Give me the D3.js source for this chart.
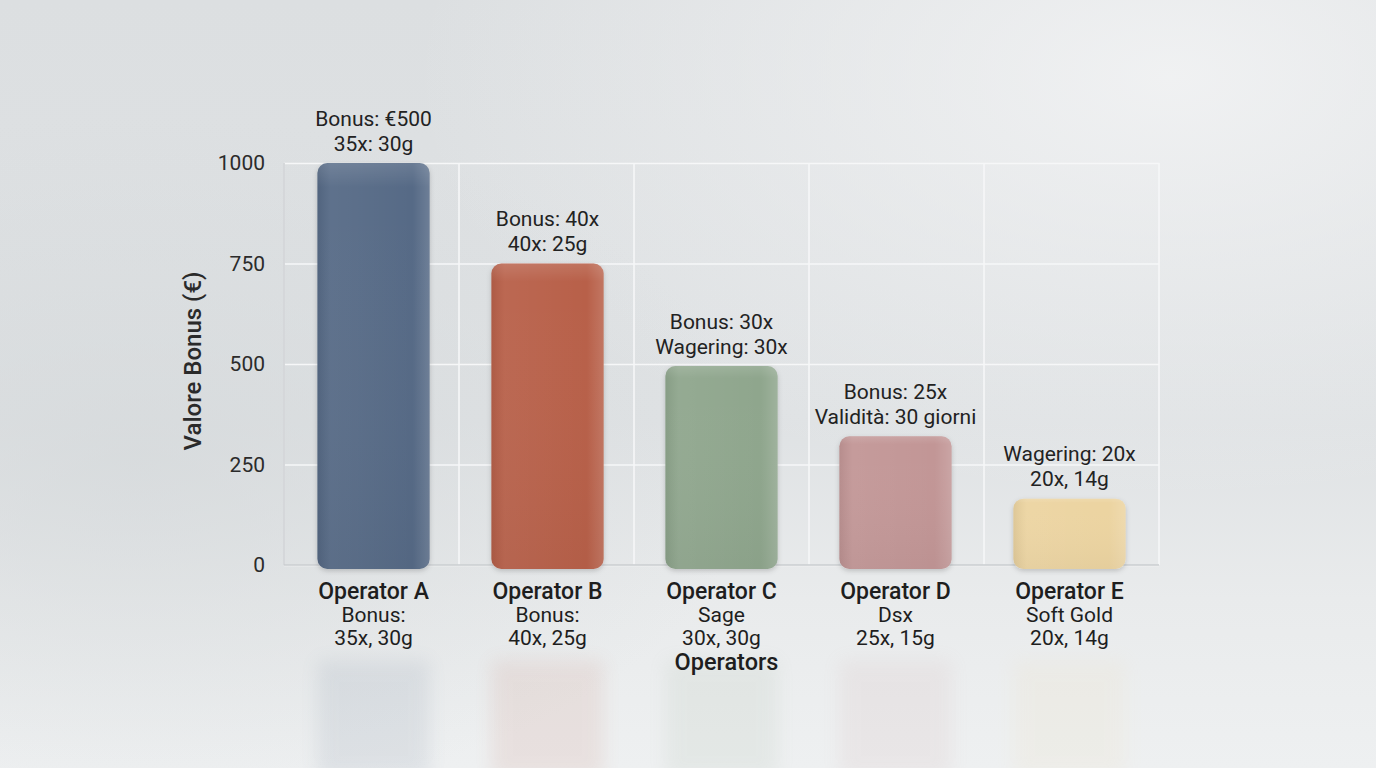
<!DOCTYPE html>
<html><head><meta charset="utf-8">
<script src="https://cdn.jsdelivr.net/npm/d3@7"></script>
<style>html,body{margin:0;padding:0;overflow:hidden;background:#e3e6e8;}svg{display:block;}</style>
</head><body>
<svg id="c" width="1376" height="768"></svg>
<script>
const categories = ["Operator A","Operator B","Operator C","Operator D","Operator E"];
const values = [1000, 750, 495, 320, 165];
const topLine1 = ["Bonus: €500","Bonus: 40x","Bonus: 30x","Bonus: 25x","Wagering: 20x"];
const topLine2 = ["35x: 30g","40x: 25g","Wagering: 30x","Validità: 30 giorni","20x, 14g"];
const subLine1 = ["Bonus:","Bonus:","Sage","Dsx","Soft Gold"];
const subLine2 = ["35x, 30g","40x, 25g","30x, 30g","25x, 15g","20x, 14g"];
const yTicks = [0, 250, 500, 750, 1000];
const colors = ["#566b86","#b8614a","#8fa68d","#c29696","#ecd4a1"];
const yTitle = "Valore Bonus (€)";
const xTitle = "Operators";

(function(){
const svg = d3.select("#c");
const W = 1376, H = 768;
const defs = svg.append("defs");

// background
const bg = defs.append("linearGradient").attr("id","bg").attr("x1",0).attr("y1",0).attr("x2",0).attr("y2",1);
bg.append("stop").attr("offset","0%").attr("stop-color","#dcdfe1");
bg.append("stop").attr("offset","55%").attr("stop-color","#dfe2e4");
bg.append("stop").attr("offset","78%").attr("stop-color","#e9ebec");
bg.append("stop").attr("offset","100%").attr("stop-color","#eef0f1");
svg.append("rect").attr("width",W).attr("height",H).attr("fill","url(#bg)");
const rg = defs.append("radialGradient").attr("id","glow").attr("cx","85%").attr("cy","10%").attr("r","55%");
rg.append("stop").attr("offset","0%").attr("stop-color","#f2f3f4").attr("stop-opacity",0.9);
rg.append("stop").attr("offset","100%").attr("stop-color","#f2f3f4").attr("stop-opacity",0);
svg.append("rect").attr("width",W).attr("height",H).attr("fill","url(#glow)");
const rg2 = defs.append("radialGradient").attr("id","glow2").attr("cx","10%").attr("cy","60%").attr("r","45%");
rg2.append("stop").attr("offset","0%").attr("stop-color","#d4d8da").attr("stop-opacity",0.7);
rg2.append("stop").attr("offset","100%").attr("stop-color","#d4d8da").attr("stop-opacity",0);
svg.append("rect").attr("width",W).attr("height",H).attr("fill","url(#glow2)");

const pL = 284, pR = 1159, pT = 163, pB = 565;
const x = d3.scaleBand().domain(categories).range([pL,pR]).paddingInner(0.355).paddingOuter(0.192);
const y = d3.scaleLinear().domain([0,1000]).range([pB,pT]);

// horizontal grid
svg.append("g").attr("transform",`translate(${pL},0)`)
  .call(d3.axisLeft(y).tickValues(yTicks).tickSize(-(pR-pL)).tickFormat(""))
  .call(g=>g.select(".domain").remove())
  .call(g=>g.selectAll("line").attr("stroke","#f6f7f8").attr("stroke-width",1.6));
// vertical grid lines dividing the categories
const edges = d3.range(categories.length+1).map(i=>pL + i*(pR-pL)/categories.length);
svg.append("g").selectAll("line").data(edges).join("line")
  .attr("x1",d=>d).attr("x2",d=>d).attr("y1",pT).attr("y2",pB)
  .attr("stroke","#f6f7f8").attr("stroke-width",1.6);
// left & bottom axis lines
svg.append("line").attr("x1",pL).attr("x2",pL).attr("y1",pT).attr("y2",pB).attr("stroke","#c9cccf").attr("stroke-width",1.4);
svg.append("line").attr("x1",pL).attr("x2",pR).attr("y1",pB).attr("y2",pB).attr("stroke","#c9cccf").attr("stroke-width",1.4);

const font = "Roboto, sans-serif";
// y tick labels
svg.append("g").attr("transform",`translate(${pL},0)`)
  .call(d3.axisLeft(y).tickValues(yTicks).tickSize(0).tickPadding(19).tickFormat(d3.format("d")))
  .call(g=>g.select(".domain").remove())
  .call(g=>g.selectAll("text").attr("font-family",font).attr("font-size",21).attr("fill","#2b2b2b"));

// y title
svg.append("text").attr("transform","translate(201,361) rotate(-90)")
  .attr("text-anchor","middle").attr("font-family",font).attr("font-size",24).attr("font-weight",500)
  .attr("fill","#2a2a2a").text(yTitle);

// filters / gradients for bars
const sh = defs.append("filter").attr("id","sh").attr("x","-20%").attr("y","-20%").attr("width","140%").attr("height","140%");
sh.append("feDropShadow").attr("dx",0).attr("dy",2).attr("stdDeviation",2.5).attr("flood-color","#000").attr("flood-opacity",0.18);
const blur = defs.append("filter").attr("id","blur").attr("x","-30%").attr("y","-30%").attr("width","160%").attr("height","160%");
blur.append("feGaussianBlur").attr("stdDeviation",9);
const shade = defs.append("linearGradient").attr("id","shade").attr("x1",0).attr("y1",0).attr("x2",1).attr("y2",0);
shade.append("stop").attr("offset","0%").attr("stop-color","#000").attr("stop-opacity",0.06);
shade.append("stop").attr("offset","12%").attr("stop-color","#fff").attr("stop-opacity",0.05);
shade.append("stop").attr("offset","85%").attr("stop-color","#fff").attr("stop-opacity",0.0);
shade.append("stop").attr("offset","100%").attr("stop-color","#fff").attr("stop-opacity",0.14);
const topHi = defs.append("linearGradient").attr("id","tophi").attr("x1",0).attr("y1",0).attr("x2",0).attr("y2",1).attr("gradientUnits","objectBoundingBox");
topHi.append("stop").attr("offset","0%").attr("stop-color","#fff").attr("stop-opacity",0.12);
topHi.append("stop").attr("offset","6%").attr("stop-color","#fff").attr("stop-opacity",0);
topHi.append("stop").attr("offset","100%").attr("stop-color","#000").attr("stop-opacity",0.03);

const data = categories.map((c,i)=>({c, v:values[i], col:colors[i], i}));

// reflections
svg.append("g").selectAll("rect").data(data).join("rect")
  .attr("x",d=>x(d.c)).attr("width",x.bandwidth())
  .attr("y",660).attr("height",H-650)
  .attr("fill",d=>d.col).attr("opacity",0.1).attr("filter","url(#blur)");

// bars
const bars = svg.append("g");
bars.selectAll("rect.bar").data(data).join("rect").attr("class","bar")
  .attr("x",d=>x(d.c)).attr("width",x.bandwidth())
  .attr("y",d=>y(d.v)).attr("height",d=>y(0)-y(d.v)+4)
  .attr("rx",10).attr("fill",d=>d.col).attr("filter","url(#sh)");
bars.selectAll("rect.sh").data(data).join("rect").attr("class","sh")
  .attr("x",d=>x(d.c)).attr("width",x.bandwidth())
  .attr("y",d=>y(d.v)).attr("height",d=>y(0)-y(d.v)+4)
  .attr("rx",10).attr("fill","url(#shade)");
bars.selectAll("rect.hi").data(data).join("rect").attr("class","hi")
  .attr("x",d=>x(d.c)).attr("width",x.bandwidth())
  .attr("y",d=>y(d.v)).attr("height",d=>y(0)-y(d.v)+4)
  .attr("rx",10).attr("fill","url(#tophi)");

// labels above bars
const lab = svg.append("g").attr("font-family",font).attr("font-size",21).attr("fill","#222").attr("text-anchor","middle");
lab.selectAll("text.l1").data(data).join("text").attr("class","l1")
  .attr("x",d=>x(d.c)+x.bandwidth()/2).attr("y",d=>y(d.v)-37.5).text(d=>topLine1[d.i]);
lab.selectAll("text.l2").data(data).join("text").attr("class","l2")
  .attr("x",d=>x(d.c)+x.bandwidth()/2).attr("y",d=>y(d.v)-12.5).text(d=>topLine2[d.i]);

// x labels
const xl = svg.append("g").attr("font-family",font).attr("text-anchor","middle").attr("fill","#1e1e1e");
xl.selectAll("text.n").data(data).join("text").attr("class","n")
  .attr("x",d=>x(d.c)+x.bandwidth()/2).attr("y",599).attr("font-size",23).attr("font-weight",500).text(d=>d.c);
xl.selectAll("text.s1").data(data).join("text").attr("class","s1")
  .attr("x",d=>x(d.c)+x.bandwidth()/2).attr("y",621.5).attr("font-size",21).text(d=>subLine1[d.i]);
xl.selectAll("text.s2").data(data).join("text").attr("class","s2")
  .attr("x",d=>x(d.c)+x.bandwidth()/2).attr("y",644.5).attr("font-size",21).text(d=>subLine2[d.i]);
svg.append("text").attr("x",(pL+pR)/2+5).attr("y",670).attr("text-anchor","middle")
  .attr("font-family",font).attr("font-size",23.5).attr("font-weight",500).attr("fill","#1e1e1e").text(xTitle);
})();
</script>
</body></html>
